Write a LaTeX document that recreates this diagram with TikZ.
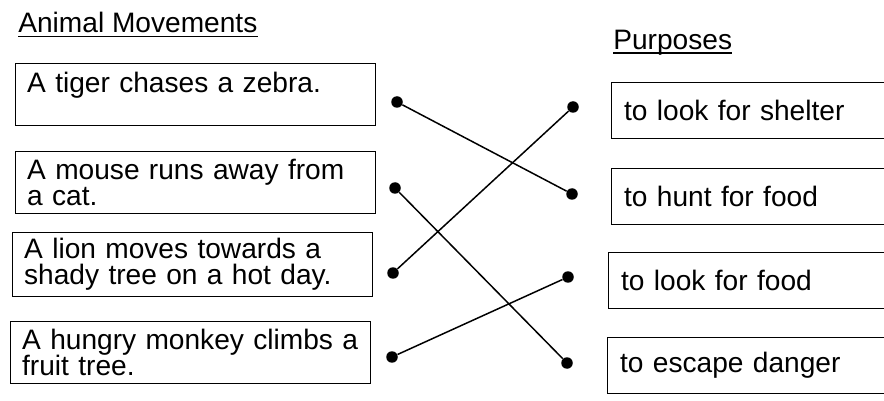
\documentclass[tikz,border=0pt]{standalone}
\usepackage{fontspec}
\setmainfont{Liberation Sans}
\usepackage{tikz}
\usetikzlibrary{positioning}
\newcommand{\tightlines}{\lineskiplimit=-1em\relax}

\begin{document}
\begin{tikzpicture}[x=0.02cm, y=-0.02cm,
    every node/.style={font=\fontsize{16}{14.6}\selectfont\tightlines},
    movebox/.style={draw, line width=0.75pt, anchor=north west, minimum width=7.2cm,
        minimum height=1.24cm, text width=6.74cm, inner xsep=0.23cm, align=left},
    purposebox/.style={draw, line width=0.75pt, anchor=north west, minimum width=6cm,
        minimum height=1.12cm, text width=5.5cm, inner xsep=0.25cm, align=left},
    dot/.style={circle, fill, inner sep=0pt, minimum size=0.23cm},
    link/.style={line width=0.85pt},
    headline/.style={line width=0.75pt}]
    % Frame
    \clip (0,0) rectangle (884,401);

    % Headings
    \node[anchor=base west, inner sep=0pt] (movehead) at (18,33) {Animal Movements};
    \node[anchor=base west, inner sep=0pt] (purposehead) at (613,50) {Purposes};
    \draw[headline] ([yshift=-0.07cm]movehead.base west) -- ([yshift=-0.07cm]movehead.base east);
    \draw[headline] ([yshift=-0.06cm]purposehead.base west) -- ([yshift=-0.06cm]purposehead.base east);

    % Animal movements
    \node[movebox] (tiger) at (15,63) {A tiger chases a zebra.\\ \mbox{}};
    \node[movebox] (mouse) at (15,151) {A mouse runs away from\\ a cat.};
    \node[movebox] (lion) at (12,232) {A lion moves towards a\\ shady tree on a hot day.};
    \node[movebox] (monkey) at (10,321) {A hungry monkey climbs a\\ fruit tree.};

    % Purposes
    \node[purposebox] (shelter) at (611,82) {to look for shelter};
    \node[purposebox] (hunt) at (611,168) {to hunt for food};
    \node[purposebox] (food) at (608,252) {to look for food};
    \node[purposebox] (danger) at (607,337) {to escape danger};

    % Matching dots
    \node[dot] (tigerdot) at (397,102) {};
    \node[dot] (mousedot) at (395,188) {};
    \node[dot] (liondot) at (393,273) {};
    \node[dot] (monkeydot) at (392,357) {};
    \node[dot] (shelterdot) at (573,107) {};
    \node[dot] (huntdot) at (572,194) {};
    \node[dot] (fooddot) at (568,277) {};
    \node[dot] (dangerdot) at (567,363) {};

    % Answers
    \draw[link] (tigerdot) -- (huntdot);
    \draw[link] (mousedot) -- (dangerdot);
    \draw[link] (liondot) -- (shelterdot);
    \draw[link] (monkeydot) -- (fooddot);
\end{tikzpicture}
\end{document}
